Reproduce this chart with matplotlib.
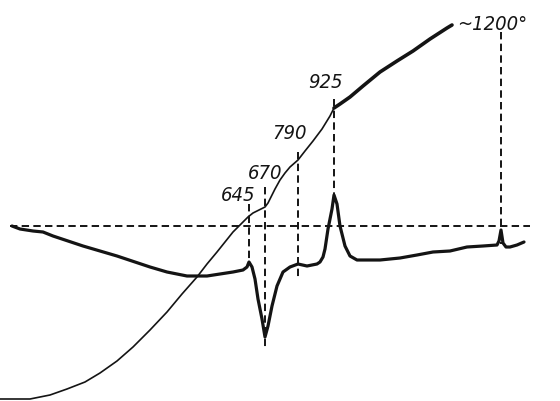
import matplotlib.pyplot as plt

# curves (x, y in picture units, y grows downward)
temp_x = [0, 30, 50, 67, 85, 100, 117, 133, 150, 167, 182, 197, 207, 217, 225, 233, 241, 248, 253, 257,
          261, 265, 268, 271, 275, 280, 285, 290, 298, 305, 313, 322, 330, 334]
temp_y = [400, 400, 396, 390, 383, 374, 362, 348, 331, 313, 295, 278, 265, 253, 243, 233, 225, 218, 214, 212,
          210, 208, 204, 198, 190, 181, 174, 168, 161, 152, 142, 130, 117, 109]

temp_hi_x = [334, 340, 350, 363, 380, 397, 413, 430, 447, 452]
temp_hi_y = [109, 105, 98, 87, 73, 62, 52, 40, 29, 26]

dta_x = [12, 20, 33, 43, 53, 83, 117, 150, 167, 187, 207, 220, 233, 243, 247, 249, 252, 255, 258, 262,
         265, 268, 272, 277, 283, 290, 298, 307, 317, 320, 323, 325, 328, 332, 334, 337, 340, 345, 350,
         357, 380, 400, 417, 433, 450, 467, 483, 497, 499, 501, 503, 506, 510, 517, 524]
dta_y = [227, 230, 232, 233, 237, 247, 257, 268, 273, 277, 277, 275, 273, 271, 268, 263, 268, 280, 300, 320,
         338, 327, 307, 287, 273, 268, 265, 267, 265, 263, 258, 250, 230, 210, 196, 205, 227, 247, 257,
         261, 261, 259, 256, 253, 252, 248, 247, 246, 242, 231, 244, 248, 248, 246, 243]

# marked temperatures: label, x of the dashed line, its top and bottom
marks = ['645', '670', '790', '925']
mark_x = [249, 265, 298, 334]
mark_top = [205, 188, 153, 100]
mark_bot = [266, 348, 278, 198]
label_xy = [(238, 196), (265, 174), (290, 134), (325, 83)]

base_y = 227

fig = plt.figure(figsize=(5.6, 4.02), dpi=100)
ax = fig.add_axes([0, 0, 1, 1])
ax.set_xlim(0, 560)
ax.set_ylim(402, 0)
ax.axis('off')

ink = '#141414'
dash = (0, (3.8, 2.2))
font = dict(fontsize=14.5, style='italic', family='DejaVu Sans', fontstretch='condensed',
            ha='center', va='center', color=ink)

ax.plot([10, 530], [base_y, base_y], color=ink, lw=1.4, ls=dash)
ax.plot(temp_x, temp_y, color=ink, lw=1.2, solid_joinstyle='round')
ax.plot(temp_hi_x, temp_hi_y, color=ink, lw=2.6, solid_capstyle='round', solid_joinstyle='round')
ax.plot(dta_x, dta_y, color=ink, lw=2.3, solid_joinstyle='round', solid_capstyle='round')

for lab, x, y0, y1, (tx, ty) in zip(marks, mark_x, mark_top, mark_bot, label_xy):
    ax.plot([x, x], [y0, y1], color=ink, lw=1.4, ls=dash)
    ax.text(tx, ty, lab, **font)

ax.plot([501, 501], [33, 245], color=ink, lw=1.4, ls=dash)
ax.text(492, 25, '~1200°', **font)

fig.savefig('out.png', dpi=100)
